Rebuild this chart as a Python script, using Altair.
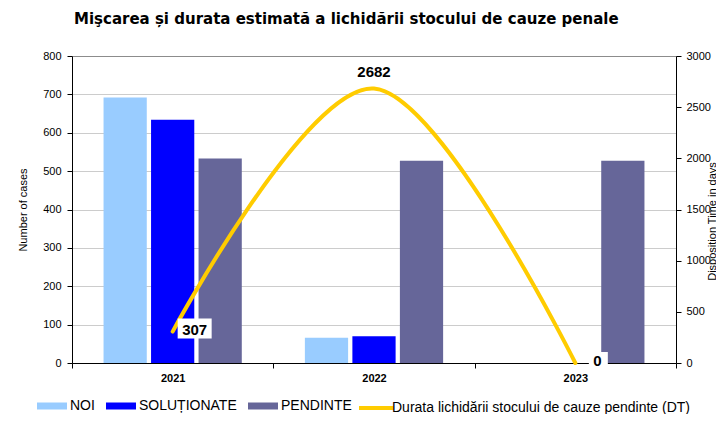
import altair as alt
import pandas as pd

years = ["2021", "2022", "2023"]
series = ["NOI", "SOLUȚIONATE", "PENDINTE"]
noi = [692, 66, 0]
solutionate = [634, 70, 0]
pendinte = [533, 527, 527]
dt = [307, 2682, 0]
line_name = "Durata lichidării stocului de cauze pendinte (DT)"
bar_colors = ["#99CCFF", "#0000FF", "#666699"]
line_color = "#FFCC00"

rows = []
for i, y in enumerate(years):
    for s, vals in zip(series, [noi, solutionate, pendinte]):
        rows.append({"year": y, "series": s, "value": vals[i]})
bars_df = pd.DataFrame(rows)
line_df = pd.DataFrame({"year": years, "dt": dt, "series": [line_name] * 3,
                        "label": [str(v) for v in dt]})

FONT = "Liberation Sans"

x_enc = alt.X("year:N", sort=years, title=None,
              scale=alt.Scale(paddingInner=0, paddingOuter=0),
              axis=alt.Axis(tickBand="extent", labelFontWeight="bold", labelFontSize=11,
                            labelColor="black", domainColor="black", tickColor="black",
                            tickSize=5, labelPadding=4, labelAngle=0, labelFont=FONT))

right_axis = alt.Axis(orient="right", values=list(range(0, 3001, 500)), grid=False, format="d",
                      title="Disposition Time in days", titleAngle=270, titleFontWeight="normal",
                      titleFontSize=11, titleFont=FONT, titleX=41, titleY=165,
                      labelFontSize=11, labelFont=FONT, labelColor="black",
                      domainColor="black", tickColor="black", tickSize=5, labelPadding=5)
y_right = alt.Y("dt:Q", scale=alt.Scale(domain=[0, 3000], nice=False), axis=right_axis)

bars = alt.Chart(bars_df).mark_bar().encode(
    x=x_enc,
    xOffset=alt.XOffset("series:N", sort=series,
                        scale=alt.Scale(paddingInner=0.09, paddingOuter=0.664)),
    y=alt.Y("value:Q", scale=alt.Scale(domain=[0, 800], nice=False),
            axis=alt.Axis(values=list(range(0, 801, 100)), title="Number of cases",
                          titleFontWeight="normal", titleFontSize=11, titleFont=FONT,
                          labelFontSize=11, labelFont=FONT, labelColor="black",
                          domainColor="black", tickColor="black", tickSize=5, labelPadding=6,
                          titlePadding=14,
                          gridColor={"condition": {"test": "datum.value === 800", "value": "#8c8c8c"},
                                     "value": "#cccccc"})),
    color=alt.Color("series:N", sort=series,
                    scale=alt.Scale(domain=series, range=bar_colors),
                    legend=alt.Legend(title=None, orient="none", direction="horizontal",
                                      legendX=-35, legendY=340, labelFontSize=14, labelFont=FONT,
                                      labelColor="black", symbolType="M-1,-0.35H2V0.35H-1Z",
                                      symbolSize=400, labelOffset=13, columnPadding=11,
                                      symbolStrokeWidth=0)),
)

line = alt.Chart(line_df).mark_line(interpolate="cardinal", strokeWidth=4, strokeCap="round").encode(
    x=x_enc,
    y=y_right,
    stroke=alt.Stroke("series:N", scale=alt.Scale(domain=[line_name], range=[line_color]),
                      legend=alt.Legend(title=None, orient="none", legendX=285, legendY=340,
                                        labelFontSize=14, labelFont=FONT, labelColor="black",
                                        symbolType="M-1,0H2.5", symbolSize=400, symbolStrokeWidth=4,
                                        labelOffset=11, labelLimit=400)),
)

box307 = alt.Chart(line_df).transform_filter("datum.year == '2021'").mark_point(
    shape="M-3.4,-2H3.4V2H-3.4Z", size=100, filled=True, color="white", opacity=1, xOffset=22, yOffset=-3
).encode(x=x_enc, y=y_right)

box0 = alt.Chart(line_df).transform_filter("datum.year == '2023'").mark_point(
    shape="M-1.9,-2H1.9V2H-1.9Z", size=100, filled=True, color="white", opacity=1, xOffset=23, yOffset=-1
).encode(x=x_enc, y=y_right)

text_side = alt.Chart(line_df).transform_filter("datum.year != '2022'").mark_text(
    font=FONT, fontSize=15, fontWeight="bold", color="black", dx=22, dy=-2, align="center", baseline="middle"
).encode(x=x_enc, y=y_right, text="label:N")

text_top = alt.Chart(line_df).transform_filter("datum.year == '2022'").mark_text(
    font=FONT, fontSize=15, fontWeight="bold", color="black", dy=-17, align="center", baseline="middle"
).encode(x=x_enc, y=y_right, text="label:N")

right = alt.layer(line, box307, box0, text_side, text_top)

chart = alt.layer(bars, right).resolve_scale(y="independent").properties(
    width=604, height=307,
    title=alt.TitleParams("Mişcarea și durata estimată a lichidării stocului de cauze penale",
                          anchor="start", font="DejaVu Sans", fontSize=15, fontWeight="bold",
                          color="black", offset=23, dx=2, frame="group"),
    autosize=alt.AutoSizeParams(type="none"),
    padding={"left": 64, "top": 48, "right": 40, "bottom": 51},
).configure_view(stroke=None)

chart.save("out.html", embed_options={"renderer": "svg", "actions": False})
